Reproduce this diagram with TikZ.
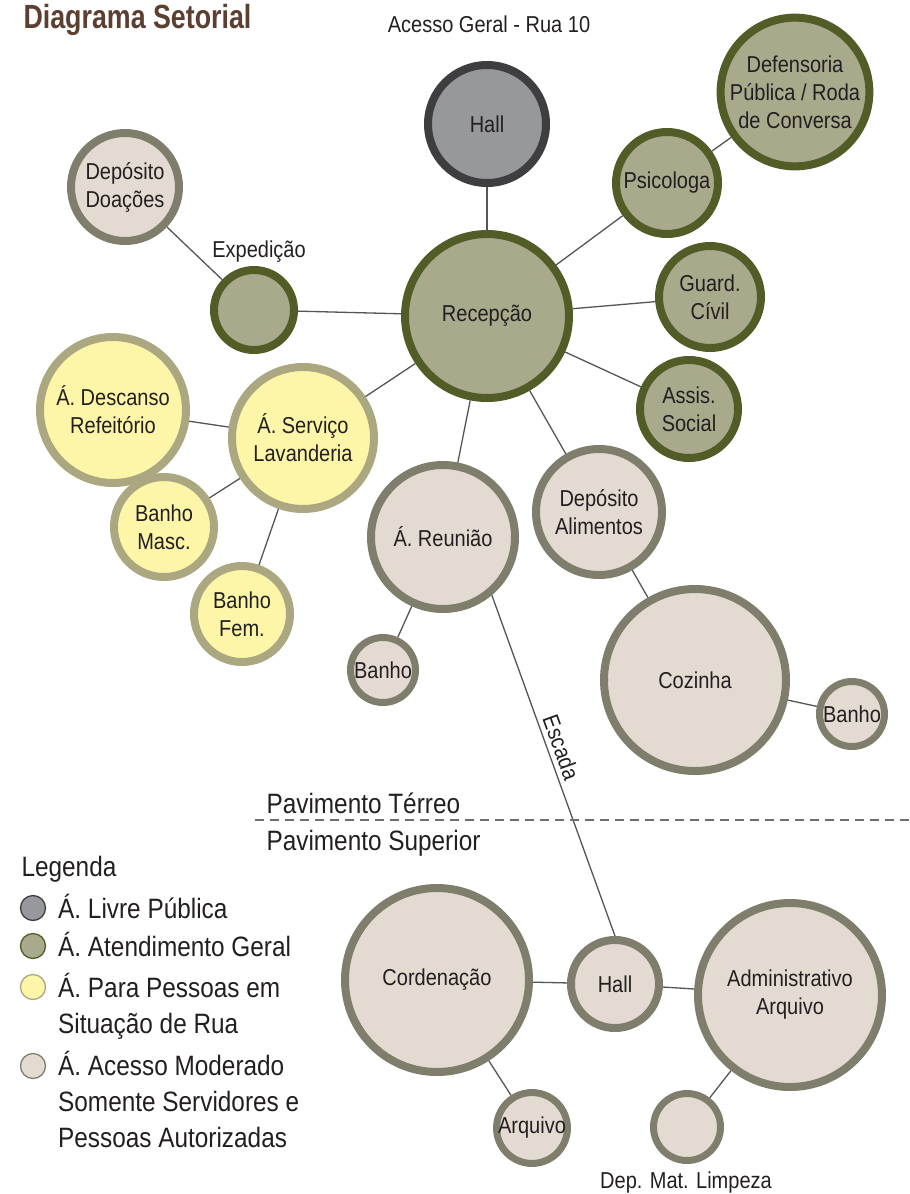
\documentclass[tikz,border=0pt]{standalone}
\usepackage{fontspec}
\setmainfont[FakeStretch=0.87]{Liberation Sans}
\newfontfamily\titulofonte[FakeStretch=0.8]{Liberation Sans}
\usepackage{tikz}
\usetikzlibrary{positioning}

\definecolor{livreFundo}{HTML}{97989C}
\definecolor{livreBorda}{HTML}{3E3E40}
\definecolor{atendFundo}{HTML}{A9A98C}
\definecolor{atendBorda}{HTML}{525C26}
\definecolor{ruaFundo}{HTML}{FDF6A8}
\definecolor{ruaBorda}{HTML}{AAA781}
\definecolor{modFundo}{HTML}{E3DBD2}
\definecolor{modBorda}{HTML}{7F7E6C}
\definecolor{tituloCor}{HTML}{5B3F30}
\definecolor{linha}{HTML}{555555}
\definecolor{texto}{HTML}{231F20}

\newcommand{\rotulo}{\fontsize{23}{28}\selectfont}
\newcommand{\legfonte}{\fontsize{28}{36}\selectfont}

\tikzset{
  sala/.style={circle, inner sep=0pt, line width=8pt, align=center,
    font=\rotulo, text=texto},
  livre/.style={sala, draw=livreBorda, fill=livreFundo},
  atend/.style={sala, draw=atendBorda, fill=atendFundo},
  rua/.style={sala, draw=ruaBorda, fill=ruaFundo},
  moderado/.style={sala, draw=modBorda, fill=modFundo},
  ligacao/.style={draw=linha, line width=1.3pt},
  ponto/.style={circle, inner sep=0pt, minimum size=25pt, line width=1.3pt},
  legtexto/.style={anchor=base west, font=\legfonte, text=texto, inner sep=0pt, align=left}
}

\begin{document}
\begin{tikzpicture}[x=1pt,y=-1pt]
\useasboundingbox (0,0) rectangle (910,1194);

% titulo e acesso
\node[anchor=base west, text=tituloCor, font=\titulofonte\bfseries\fontsize{33.5}{36}\selectfont] (titulo) at (20,28) {Diagrama Setorial};
\node[anchor=base, font=\rotulo, text=texto] (acesso) at (489,32) {Acesso Geral - Rua 10};

% pavimento terreo
\node[livre, minimum size=118] (hall) at (487,124) {Hall};
\node[atend, minimum size=164] (recepcao) at (487,316) {Recepção};
\node[atend, minimum size=102] (psico) at (667,183) {Psicologa};
\node[atend, minimum size=136] (defens) at (795,92) {Defensoria\\Pública / Roda\\de Conversa};
\node[atend, minimum size=102] (guard) at (710,297) {Guard.\\Cívil};
\node[atend, minimum size=98] (assis) at (689,409) {Assis.\\Social};
\node[atend, minimum size=80] (exped) at (254,310) {};
\node[anchor=base, font=\rotulo, text=texto] (expedlb) at (259,257) {Expedição};
\node[moderado, minimum size=108] (doacoes) at (125,187) {Depósito\\Doações};
\node[rua, minimum size=142] (lavand) at (303,438) {Á. Serviço\\Lavanderia};
\node[rua, minimum size=146] (descanso) at (113,410) {Á. Descanso\\Refeitório};
\node[rua, minimum size=100] (bmasc) at (164,527) {Banho\\Masc.};
\node[rua, minimum size=96] (bfem) at (242,614) {Banho\\Fem.};
\node[moderado, minimum size=144] (reuniao) at (443,537) {Á. Reunião};
\node[moderado, line width=7pt, minimum size=65] (banhoa) at (383,670) {Banho};
\node[moderado, minimum size=126] (depalim) at (599,512) {Depósito\\Alimentos};
\node[moderado, minimum size=182] (cozinha) at (695,680) {Cozinha};
\node[moderado, line width=7pt, minimum size=65] (banhob) at (852,714) {Banho};

% pavimento superior
\node[moderado, minimum size=184] (coord) at (437,980) {Cordenação};
\node[moderado, minimum size=88] (hallsup) at (615,984) {Hall};
\node[moderado, minimum size=184] (admin) at (790,995) {Administrativo\\Arquivo};
\node[moderado, line width=7pt, minimum size=67] (arquivo) at (532,1128) {Arquivo};
\node[moderado, line width=7pt, minimum size=67] (limpeza) at (687,1127) {};
\node[anchor=base, font=\rotulo, text=texto] (limpezalb) at (686,1188) {Dep. Mat. Limpeza};

% ligacoes
\draw[ligacao] (hall) -- (recepcao);
\draw[ligacao] (recepcao) -- (psico);
\draw[ligacao] (psico) -- (defens);
\draw[ligacao] (recepcao) -- (guard);
\draw[ligacao] (recepcao) -- (assis);
\draw[ligacao] (recepcao) -- (exped);
\draw[ligacao] (exped) -- (doacoes);
\draw[ligacao] (recepcao) -- (lavand);
\draw[ligacao] (lavand) -- (descanso);
\draw[ligacao] (lavand) -- (bmasc);
\draw[ligacao] (lavand) -- (bfem);
\draw[ligacao] (recepcao) -- (reuniao);
\draw[ligacao] (reuniao) -- (banhoa);
\draw[ligacao] (recepcao) -- (depalim);
\draw[ligacao] (depalim) -- (cozinha);
\draw[ligacao] (cozinha) -- (banhob);
\draw[ligacao] (reuniao.-50) -- node[pos=0.46, above, sloped, inner sep=4.5pt, font=\rotulo, text=texto] (escada) {Escada} (hallsup.north);
\draw[ligacao] (coord) -- (hallsup);
\draw[ligacao] (hallsup) -- (admin);
\draw[ligacao] (coord) -- (arquivo);
\draw[ligacao] (admin) -- (limpeza);

% divisao dos pavimentos
\draw[draw=linha!85, line width=1.5pt, dash pattern=on 9pt off 6pt] (255,820) -- (910,820);
\node[anchor=base west, font=\legfonte, text=texto] (terreo) at (263,813) {Pavimento Térreo};
\node[anchor=base west, font=\legfonte, text=texto] (superior) at (263,850) {Pavimento Superior};

% legenda
\node[anchor=base west, font=\legfonte, text=texto] (legenda) at (18,876) {Legenda};
\node[ponto, draw=livreBorda, fill=livreFundo] (p1) at (33,908) {};
\node[ponto, draw=atendBorda, fill=atendFundo] (p2) at (33,946) {};
\node[ponto, draw=ruaBorda, fill=ruaFundo] (p3) at (33,987) {};
\node[ponto, draw=modBorda, fill=modFundo] (p4) at (33,1066) {};
\node[legtexto] (t1) at (58,918) {Á. Livre Pública};
\node[legtexto] (t2) at (58,956) {Á. Atendimento Geral};
% base = ultima linha
\node[legtexto] (t3) at (58,1033) {Á. Para Pessoas em\\Situação de Rua};
\node[legtexto] (t4) at (58,1147) {Á. Acesso Moderado\\Somente Servidores e\\Pessoas Autorizadas};
\end{tikzpicture}
\end{document}
